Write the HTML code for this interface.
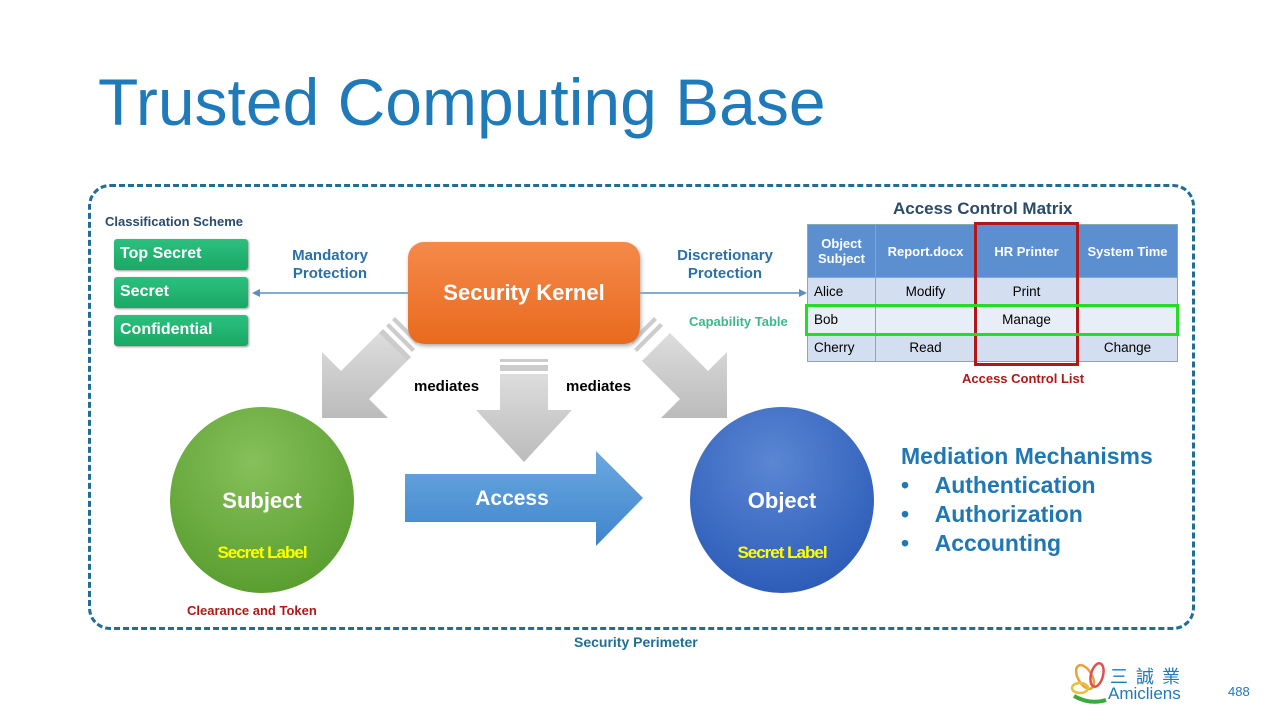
<!DOCTYPE html>
<html><head><meta charset="utf-8"><style>
body{margin:0;width:1280px;height:720px;background:#fff;position:relative;overflow:hidden;font-family:"Liberation Sans",sans-serif}
.a{position:absolute}
.t{font-weight:bold}
.g{position:absolute;left:114px;width:134px;height:31px;background:linear-gradient(#2bc07e,#1aa866);border-radius:3px;font-weight:bold;font-size:16px;line-height:30px;text-indent:6px;color:#fff;box-shadow:1px 1px 2px #999}
table{position:absolute;left:807px;top:224px;border-collapse:collapse;font-size:13.5px}
td{border:1px solid #8aa;text-align:center;height:27px;padding:0;background:#d3dff0}
tr.h td{background:#5b8fd0;color:#fff;font-weight:bold;height:52px;font-size:13px}
tr.b td{background:#e8eef7}
</style></head><body>
<div class="a" style="left:98px;top:64px;font-size:66px;color:#1e7ab8">Trusted Computing Base</div>
<div class="a" style="left:88px;top:184px;width:1101px;height:440px;border:3px dashed #1f6e96;border-radius:22px"></div>
<div class="a t" style="left:105px;top:214px;font-size:13px;color:#2a4a6a">Classification Scheme</div>
<div class="g" style="top:239px">Top Secret</div>
<div class="g" style="top:277px">Secret</div>
<div class="g" style="top:315px">Confidential</div>
<div class="a t" style="left:270px;top:247px;width:120px;text-align:center;font-size:15px;color:#2a70a8;line-height:18px">Mandatory<br>Protection</div>
<div class="a t" style="left:660px;top:247px;width:130px;text-align:center;font-size:15px;color:#2a70a8;line-height:18px">Discretionary<br>Protection</div>
<div class="a t" style="left:689px;top:314px;font-size:13px;color:#3cb98a">Capability Table</div>
<svg class="a" style="left:0;top:0" width="1280" height="720">
<defs>
<linearGradient id="gr" x1="0" y1="0" x2="0" y2="1"><stop offset="0" stop-color="#ddd"/><stop offset="1" stop-color="#bbb"/></linearGradient>
<linearGradient id="bl" x1="0" y1="0" x2="0" y2="1"><stop offset="0" stop-color="#6aa8e0"/><stop offset="1" stop-color="#3f85cc"/></linearGradient>
<radialGradient id="gc" cx="0.45" cy="0.3" r="0.7"><stop offset="0" stop-color="#86c05a"/><stop offset="1" stop-color="#5a9e30"/></radialGradient>
<radialGradient id="bc" cx="0.45" cy="0.3" r="0.7"><stop offset="0" stop-color="#5b86d4"/><stop offset="1" stop-color="#2d5db8"/></radialGradient>
</defs>
<line x1="408" y1="293" x2="258" y2="293" stroke="#5a8fc0" stroke-width="1.5"/>
<polygon points="252,293 260,289 260,297" fill="#5a8fc0"/>
<line x1="640" y1="293" x2="800" y2="293" stroke="#5a8fc0" stroke-width="1.5"/>
<polygon points="807,293 799,289 799,297" fill="#5a8fc0"/>
<rect x="500" y="359" width="48" height="3" fill="#ccc"/>
<rect x="500" y="365" width="48" height="6" fill="#ccc"/>
<polygon points="500,374 548,374 548,410 572,410 524,462 476,410 500,410" fill="url(#gr)"/>
<polygon points="727,418 727,352 708,371 670,333 642,361 680,399 661,418" fill="url(#gr)"/>
<polygon points="666,329 638,357 642,353 662,333" fill="#ccc"/>
<polygon points="660,323 634,349 637,352 663,326" fill="#ccc"/>
<polygon points="654,317 630,341 633,344 657,320" fill="#ccc"/>
<polygon points="322,418 322,352 341,371 379,333 407,361 369,399 388,418" fill="url(#gr)"/>
<polygon points="383,329 411,357 407,361 379,333" fill="#ccc"/>
<polygon points="389,323 415,349 412,352 386,326" fill="#ccc"/>
<polygon points="395,317 419,341 416,344 392,320" fill="#ccc"/>
<polygon points="405,474 596,474 596,451 643,498 596,546 596,522 405,522" fill="url(#bl)"/>
<ellipse cx="262" cy="500" rx="92" ry="93" fill="url(#gc)"/>
<ellipse cx="782" cy="500" rx="92" ry="93" fill="url(#bc)"/>
<g fill="none" stroke-width="2.5">
<ellipse cx="1085" cy="677" rx="7" ry="13" stroke="#e9a23b" transform="rotate(-30 1085 677)"/>
<ellipse cx="1097" cy="675" rx="6" ry="12" stroke="#e05050" transform="rotate(15 1097 675)"/>
<ellipse cx="1080" cy="688" rx="8" ry="5" stroke="#e9c03b"/>
<path d="M1074 696 Q1090 705 1106 700" stroke="#3aaa3a" stroke-width="4"/>
</g>
</svg>
<div class="a" style="left:408px;top:242px;width:232px;height:102px;border-radius:16px;background:linear-gradient(#f5894a,#e86a1e);box-shadow:1px 2px 4px #aaa;color:#fff;font-weight:bold;font-size:22px;line-height:102px;text-align:center">Security Kernel</div>
<div class="a t" style="left:414px;top:378px;font-size:15px">mediates</div>
<div class="a t" style="left:566px;top:378px;font-size:15px">mediates</div>
<div class="a t" style="left:462px;top:487px;width:100px;text-align:center;color:#fff;font-size:21px">Access</div>
<div class="a t" style="left:202px;top:488px;width:120px;text-align:center;color:#fff;font-size:22px">Subject</div>
<div class="a t" style="left:202px;top:543px;width:120px;text-align:center;color:#ffff00;font-size:17px;letter-spacing:-1px">Secret Label</div>
<div class="a t" style="left:722px;top:488px;width:120px;text-align:center;color:#fff;font-size:22px">Object</div>
<div class="a t" style="left:722px;top:543px;width:120px;text-align:center;color:#ffff00;font-size:17px;letter-spacing:-1px">Secret Label</div>
<div class="a t" style="left:187px;top:603px;font-size:13px;color:#b01818">Clearance and Token</div>
<div class="a t" style="left:574px;top:634px;font-size:14px;color:#1f6e96">Security Perimeter</div>
<div class="a t" style="left:893px;top:199px;font-size:17px;color:#2a4a6a">Access Control Matrix</div>
<table>
<tr class="h"><td style="width:67px">Object<br>Subject</td><td style="width:99px">Report.docx</td><td style="width:101px">HR Printer</td><td style="width:99px">System Time</td></tr>
<tr><td style="text-align:left;padding-left:6px">Alice</td><td>Modify</td><td>Print</td><td></td></tr>
<tr class="b"><td style="text-align:left;padding-left:6px">Bob</td><td></td><td>Manage</td><td></td></tr>
<tr><td style="text-align:left;padding-left:6px">Cherry</td><td>Read</td><td></td><td>Change</td></tr>
</table>
<div class="a" style="left:974px;top:222px;width:99px;height:138px;border:3px solid #b01818"></div>
<div class="a" style="left:805px;top:304px;width:368px;height:26px;border:3px solid #22dd22"></div>
<div class="a t" style="left:962px;top:371px;font-size:13px;color:#b01818">Access Control List</div>
<div class="a t" style="left:901px;top:442px;font-size:23px;color:#1f78b4;line-height:29px">Mediation Mechanisms<br>•&nbsp;&nbsp;&nbsp;&nbsp;Authentication<br>•&nbsp;&nbsp;&nbsp;&nbsp;Authorization<br>•&nbsp;&nbsp;&nbsp;&nbsp;Accounting</div>
<div class="a" style="left:1110px;top:663px;font-size:18px;color:#1e7ab8;letter-spacing:8px;font-family:'Liberation Sans','Noto Sans CJK TC',sans-serif">三誠業</div>
<div class="a" style="left:1108px;top:684px;font-size:17px;color:#1e7ab8">Amicliens</div>
<div class="a" style="left:1228px;top:684px;font-size:13px;color:#1e7ab8">488</div>
</body></html>
